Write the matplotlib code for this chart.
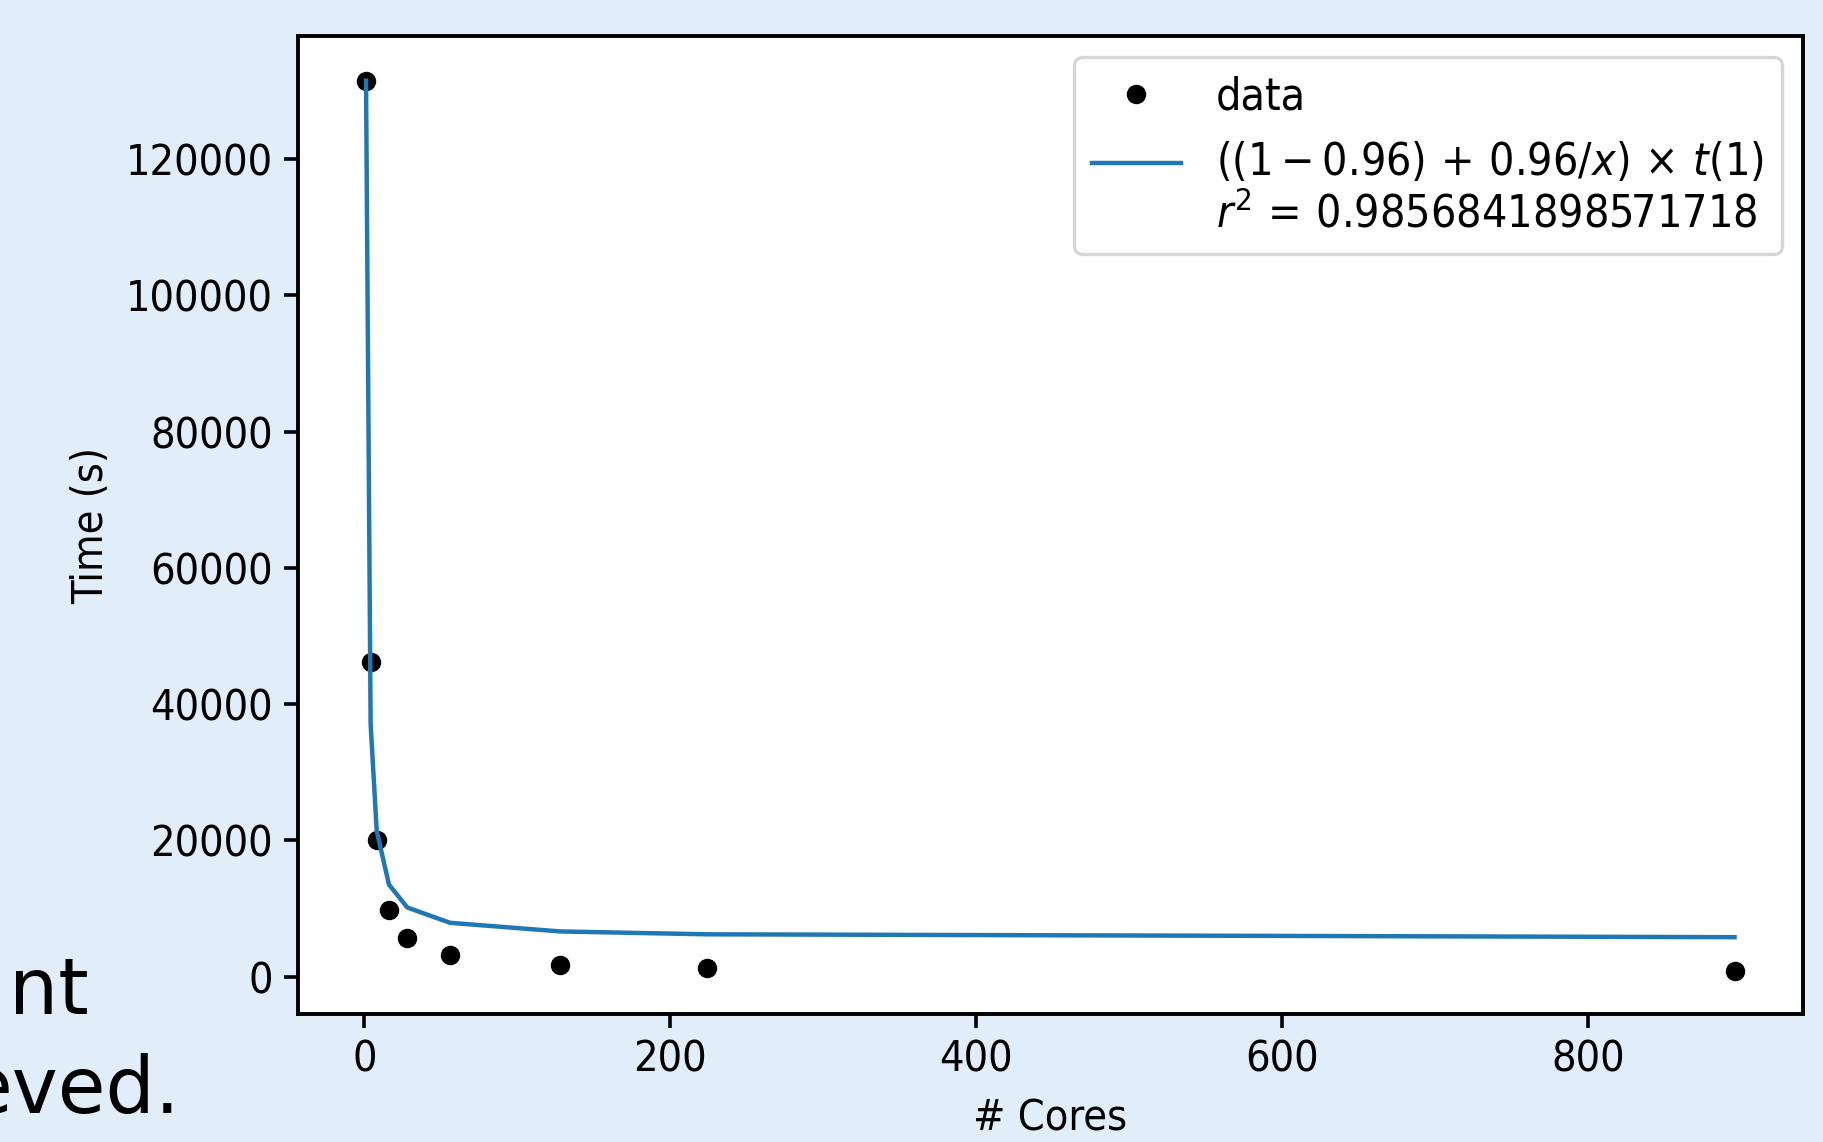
import numpy as np
import matplotlib
matplotlib.use('Agg')
import matplotlib.pyplot as plt
from matplotlib.legend_handler import HandlerLine2D

# strong scaling runs: number of cores vs wall time
cores = [1, 4, 8, 16, 28, 56, 128, 224, 896]
times = [131500, 46150, 20060, 9780, 5710, 3130, 1660, 1220, 870]
# Amdahl fit values, ((1-p)+p/x)*t(1) with p ~ 0.957
fit = [131500, 37116, 21385, 13520, 10149, 7902, 6638, 6216, 5795]

fit_label = (r'$((1-0.96)\,+\,0.96/x)\,\times\,t(1)$' + '\n'
             + r'$r^2\, =\, 0.9856841898571718$')

plt.rcParams['font.family'] = ['DejaVu Sans']
plt.rcParams['font.stretch'] = 'condensed'
plt.rcParams['mathtext.fontset'] = 'custom'
plt.rcParams['mathtext.rm'] = 'DejaVu Sans:stretch=condensed'
plt.rcParams['mathtext.it'] = 'DejaVu Sans:italic:stretch=condensed'
plt.rcParams['mathtext.bf'] = 'DejaVu Sans:bold:stretch=condensed'

FS = 31


class FirstLineHandler(HandlerLine2D):
    # put the handle next to the first line of a two line label
    def create_artists(self, legend, orig_handle, xdescent, ydescent,
                       width, height, fontsize, trans):
        arts = super().create_artists(legend, orig_handle, xdescent, ydescent,
                                      width, height, fontsize, trans)
        for a in arts:
            a.set_ydata(np.asarray(a.get_ydata()) + 0.6 * fontsize)
        return arts


W, H = 1823, 1142
bg = '#e1edf9'
fig = plt.figure(figsize=(W/100, H/100), dpi=100, facecolor=bg)
ax = fig.add_axes([297.6/W, 1-1014/H, (1803-297.6)/W, (1014-36)/H])

ax.plot(cores, times, 'o', color='black', markersize=13, label='data')
fit_line, = ax.plot(cores, fit, '-', color='#1f77b4', linewidth=3.2, label=fit_label)

ax.set_xlim(-43.75, 940.75)
ax.set_ylim(-5480, 138060)
ax.set_xticks([0, 200, 400, 600, 800])
ax.set_yticks([0, 20000, 40000, 60000, 80000, 100000, 120000])

for s in ax.spines.values():
    s.set_linewidth(2.8)
ax.tick_params(labelsize=FS, length=10, width=2.6, pad=8)

ax.set_ylabel('Time (s)', fontsize=FS)
ax.yaxis.set_label_coords(-0.1233, 0.5)
ax.set_xlabel('# Cores', fontsize=FS, va='top')
ax.xaxis.set_label_coords(0.5, -0.085)

leg = ax.legend(loc='upper right', fontsize=32, borderaxespad=0.48,
                handler_map={fit_line: FirstLineHandler()})
leg.get_frame().set_linewidth(2.4)

# bits of slide text peeking out on the left
fig.text(89/W, 1-1014/H, 'nt', fontsize=56, fontstretch='normal',
         ha='right', va='baseline')
fig.text(180/W, 1-1113/H, 'eved.', fontsize=56, fontstretch='normal',
         ha='right', va='baseline')

plt.savefig('out.png', dpi=100, facecolor=bg)
